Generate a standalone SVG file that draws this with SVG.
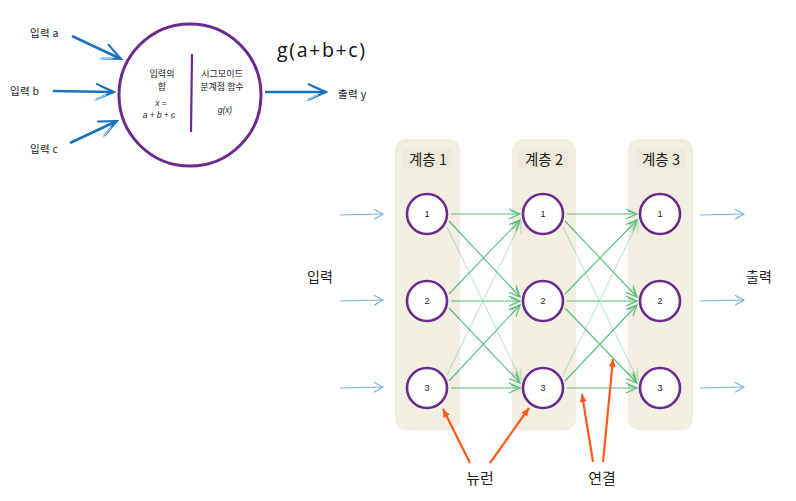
<svg xmlns="http://www.w3.org/2000/svg" width="796" height="501" viewBox="0 0 796 501">
<style>
  .lbl{font-family:"Noto Sans CJK KR","Noto Sans",sans-serif;fill:#222}
  .small{font-family:"Noto Sans CJK KR","Liberation Sans",sans-serif;fill:#222;font-size:9px}
  .math{font-family:"Liberation Sans",sans-serif;fill:#222;font-size:8.3px;font-style:italic}
  .col{fill:#f2eee0}
  .hdr{fill:#eeead9}
  .neuron{fill:#fff;stroke:#6b2a8f;stroke-width:2.6}
  .num{font-family:"Liberation Sans",sans-serif;font-size:9px;fill:#222;text-anchor:middle}
  .g{stroke:#38b56f;stroke-width:1.1;fill:none;marker-end:url(#mg)}
  .bin{stroke:#6eb2e6;stroke-width:1.1;fill:none;marker-end:url(#mb)}
  .bbig{stroke:#1872c2;stroke-width:2.6;fill:none;marker-end:url(#mbig)}
  .or{stroke:#ff5a1a;stroke-width:2.2;fill:none;marker-end:url(#mo)}
</style>
<defs>
  <marker id="mg" viewBox="-12 -7 14 14" refX="0" refY="0" markerWidth="14" markerHeight="14" markerUnits="userSpaceOnUse" orient="auto">
    <path d="M-11,-5 L0,0 L-11,5 M-9,-3 L0,0 L-9,4" fill="none" stroke="#38b56f" stroke-width="1.1"/>
  </marker>
  <marker id="mb" viewBox="-12 -7 14 14" refX="0" refY="0" markerWidth="14" markerHeight="14" markerUnits="userSpaceOnUse" orient="auto">
    <path d="M-9,-5 L0,0 L-9,5" fill="none" stroke="#6eb2e6" stroke-width="1.1"/>
  </marker>
  <marker id="mbig" viewBox="-22 -11 24 22" refX="0" refY="0" markerWidth="24" markerHeight="22" markerUnits="userSpaceOnUse" orient="auto">
    <path d="M-18,-8 L0,0 L-18,8 M-14,-6 L0,0 L-12,5" fill="none" stroke="#1872c2" stroke-width="2"/>
    <path d="M-20,9 L-8,3" fill="none" stroke="#9fcdf0" stroke-width="1.2"/>
  </marker>
  <marker id="mo" viewBox="-10 -5 12 10" refX="0" refY="0" markerWidth="12" markerHeight="10" markerUnits="userSpaceOnUse" orient="auto">
    <path d="M-8,-3.5 L0,0 L-8,3.5 Z" fill="#ff5a1a"/>
  </marker>
</defs>

<!-- Top: single neuron -->
<g id="neuron-detail">
  <circle cx="190" cy="95" r="71" fill="#fff" stroke="#6b2a8f" stroke-width="3"/>
  <path d="M192,54 L191,132" stroke="#6b2a8f" stroke-width="2.2" fill="none"/>
  <text class="small" x="162" y="77" text-anchor="middle">입력의</text>
  <text class="small" x="162" y="90" text-anchor="middle">합</text>
  <text class="math" x="161" y="106" text-anchor="middle">x =</text>
  <text class="math" x="159" y="117.5" text-anchor="middle">a + b + c</text>
  <text class="small" x="222" y="77" text-anchor="middle">시그모이드</text>
  <text class="small" x="222" y="90" text-anchor="middle">분계점 함수</text>
  <text class="math" x="225" y="113" text-anchor="middle" font-size="9.5">g(x)</text>
</g>
<g id="top-labels">
  <text class="lbl" x="30" y="37" font-size="10.5" letter-spacing="0.3">입력 a</text>
  <text class="lbl" x="10" y="95" font-size="10.5" letter-spacing="0.3">입력 b</text>
  <text class="lbl" x="30" y="153" font-size="10.5" letter-spacing="0.3">입력 c</text>
  <text class="lbl" x="338" y="98" font-size="10.5" letter-spacing="0.4">출력 y</text>
  <text x="277" y="57" font-family="Open Sans, sans-serif" font-size="19.5" fill="#111" textLength="88" lengthAdjust="spacing">g(a+b+c)</text>
</g>

<!-- Columns -->
<g id="layer1">
  <rect class="col" x="395" y="139" width="65" height="291" rx="11"/>
  <rect class="hdr" x="403" y="149" width="49" height="20"/>
  <text class="lbl" x="428" y="165" font-size="14.5" text-anchor="middle">계층 1</text>
</g>
<g id="layer2">
  <rect class="col" x="512" y="139" width="64" height="291" rx="11"/>
  <rect class="hdr" x="519" y="149" width="49" height="20"/>
  <text class="lbl" x="544" y="165" font-size="14.5" text-anchor="middle">계층 2</text>
</g>
<g id="layer3">
  <rect class="col" x="628" y="139" width="65" height="291" rx="11"/>
  <rect class="hdr" x="636" y="149" width="49" height="20"/>
  <text class="lbl" x="661" y="165" font-size="14.5" text-anchor="middle">계층 3</text>
</g>

<!-- Connectors -->
<g id="connectors">
  <path class="bbig" d="M72,36 L121,59"/>
  <path class="bbig" d="M53,91 L114,92"/>
  <path class="bbig" d="M70,143 L117,121"/>
  <path class="bbig" d="M265,92 L326,92"/>

  <path class="bin" d="M340,215 L383,214"/>
  <path class="bin" d="M340,301 L383,300"/>
  <path class="bin" d="M340,388 L383,387"/>
  <path class="bin" d="M700,215 L744,214"/>
  <path class="bin" d="M700,301 L744,300"/>
  <path class="bin" d="M700,388 L744,387"/>

  <g opacity="0.85">
    <path class="g" d="M451,214 L520,214"/>
    <path class="g" d="M449,221 L520,297"/>
    <path class="g" d="M449,294 L520,220"/>
    <path class="g" d="M451,301 L520,301"/>
    <path class="g" d="M449,308 L520,383"/>
    <path class="g" d="M449,381 L520,305"/>
    <path class="g" d="M451,388 L520,388"/>
    <path class="g" d="M567,214 L637,214"/>
    <path class="g" d="M565,221 L637,297"/>
    <path class="g" d="M565,294 L637,220"/>
    <path class="g" d="M567,301 L637,301"/>
    <path class="g" d="M565,308 L637,383"/>
    <path class="g" d="M565,381 L637,305"/>
    <path class="g" d="M567,388 L637,388"/>
  </g>
  <g opacity="0.3">
    <path class="g" d="M447,227 L521,380"/>
    <path class="g" d="M447,375 L521,222"/>
    <path class="g" d="M563,227 L638,380"/>
    <path class="g" d="M563,375 L638,222"/>
  </g>

  <path class="or" d="M470,463 L443,409"/>
  <path class="or" d="M490,463 L529,408"/>
  <path class="or" d="M593,462 L582,394"/>
  <path class="or" d="M603,462 L613,359"/>
</g>

<!-- Neurons -->
<g id="n1-1"><circle class="neuron" cx="427" cy="214" r="20"/><text class="num" x="427" y="217">1</text></g>
<g id="n1-2"><circle class="neuron" cx="427" cy="301" r="20"/><text class="num" x="427" y="304">2</text></g>
<g id="n1-3"><circle class="neuron" cx="427" cy="388" r="20"/><text class="num" x="427" y="391">3</text></g>
<g id="n2-1"><circle class="neuron" cx="543" cy="214" r="20"/><text class="num" x="543" y="217">1</text></g>
<g id="n2-2"><circle class="neuron" cx="543" cy="301" r="20"/><text class="num" x="543" y="304">2</text></g>
<g id="n2-3"><circle class="neuron" cx="543" cy="388" r="20"/><text class="num" x="543" y="391">3</text></g>
<g id="n3-1"><circle class="neuron" cx="660" cy="214" r="20"/><text class="num" x="660" y="217">1</text></g>
<g id="n3-2"><circle class="neuron" cx="660" cy="301" r="20"/><text class="num" x="660" y="304">2</text></g>
<g id="n3-3"><circle class="neuron" cx="660" cy="388" r="20"/><text class="num" x="660" y="391">3</text></g>

<g id="labels">
  <text class="lbl" x="320" y="282" font-size="14" text-anchor="middle">입력</text>
  <text class="lbl" x="759" y="282" font-size="14" text-anchor="middle">출력</text>
  <text class="lbl" x="480" y="484" font-size="15" text-anchor="middle">뉴런</text>
  <text class="lbl" x="602" y="484" font-size="15" text-anchor="middle">연결</text>
</g>
</svg>
